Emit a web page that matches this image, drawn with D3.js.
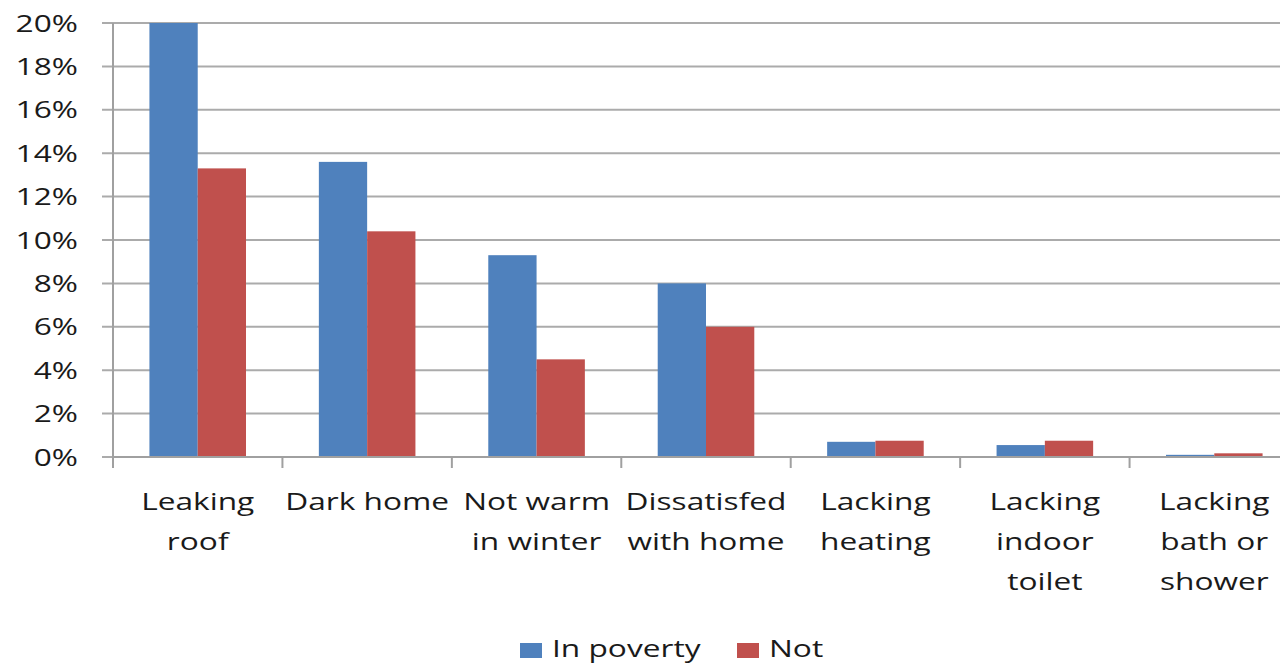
<!DOCTYPE html>
<html>
<head>
<meta charset="utf-8">
<script src="https://cdn.jsdelivr.net/npm/d3@7/dist/d3.min.js"></script>
<style>
  html, body { margin: 0; padding: 0; background: #fff; }
  svg { display: block; }
  text { font-family: "Open Sans", "Noto Sans", sans-serif; fill: #1a1a1a; }
</style>
</head>
<body>
<svg id="chart" width="1280" height="666"></svg>
<script>
// Housing problems by poverty status (percent of households)
const categories = [
  "Leaking\nroof",
  "Dark home",
  "Not warm\nin winter",
  "Dissatisfed\nwith home",
  "Lacking\nheating",
  "Lacking\nindoor\ntoilet",
  "Lacking\nbath or\nshower"
];
const seriesNames = ["In poverty", "Not"];
const inPoverty = [20.0, 13.6, 9.3, 8.0, 0.7, 0.55, 0.1];
const notPoverty = [13.3, 10.4, 4.5, 6.0, 0.75, 0.75, 0.17];
const yTicks = [0, 2, 4, 6, 8, 10, 12, 14, 16, 18, 20];
const colors = ["#4F81BD", "#C0504D"];

const rows = categories.map((c, i) => ({ cat: c, values: [inPoverty[i], notPoverty[i]] }));

const svg = d3.select("#chart");
const plotLeft = 113, plotRight = 1299, plotTop = 23, plotBottom = 457;
const textScale = 1.32;   // wide lettering
const fontSize = 24;

const y = d3.scaleLinear().domain([0, 20]).range([plotBottom, plotTop]);
const x0 = d3.scaleBand().domain(categories).range([plotLeft, plotRight])
  .paddingInner(0.43).paddingOuter(0.215);
const x1 = d3.scaleBand().domain(seriesNames).range([0, x0.bandwidth()]);

// Horizontal gridlines (with left tick stubs)
svg.append("g").selectAll("line").data(yTicks).join("line")
  .attr("x1", plotLeft - 11).attr("x2", 1280)
  .attr("y1", d => y(d)).attr("y2", d => y(d))
  .attr("stroke", "#ababab").attr("stroke-width", 2);

// Y tick labels
svg.append("g").selectAll("text").data(yTicks).join("text")
  .attr("transform", d => `translate(78,${y(d)}) scale(${textScale},1)`)
  .attr("text-anchor", "end").attr("dy", "0.36em")
  .style("font-size", fontSize + "px")
  .text(d => d + "%");

// Bars
const groups = svg.append("g").selectAll("g").data(rows).join("g")
  .attr("transform", d => `translate(${x0(d.cat)},0)`);
groups.selectAll("rect").data(d => d.values.map((v, k) => ({ k, v }))).join("rect")
  .attr("x", d => x1(seriesNames[d.k]))
  .attr("width", x1.bandwidth())
  .attr("y", d => y(d.v))
  .attr("height", d => y(0) - y(d.v))
  .attr("fill", d => colors[d.k]);

// Axis lines
svg.append("line").attr("x1", plotLeft).attr("x2", plotLeft).attr("y1", plotTop).attr("y2", plotBottom + 11)
  .attr("stroke", "#a0a0a0").attr("stroke-width", 2);
svg.append("line").attr("x1", plotLeft).attr("x2", 1280).attr("y1", plotBottom).attr("y2", plotBottom)
  .attr("stroke", "#a0a0a0").attr("stroke-width", 2);

// Category boundary ticks
const step = x0.step();
svg.append("g").selectAll("line").data(categories).join("line")
  .attr("x1", c => x0(c) + x0.bandwidth() / 2 - step / 2)
  .attr("x2", c => x0(c) + x0.bandwidth() / 2 - step / 2)
  .attr("y1", plotBottom).attr("y2", plotBottom + 11)
  .attr("stroke", "#a0a0a0").attr("stroke-width", 2);

// Category labels
const labels = svg.append("g").selectAll("g").data(categories).join("g")
  .attr("transform", c => `translate(${x0(c) + x0.bandwidth() / 2},510) scale(${textScale},1)`);
labels.selectAll("text").data(c => c.split("\n")).join("text")
  .attr("y", (d, i) => i * 40)
  .attr("text-anchor", "middle")
  .style("font-size", fontSize + "px")
  .text(d => d);

// Legend
const legendX = [520, 737];
const legend = svg.append("g").selectAll("g").data(seriesNames).join("g")
  .attr("transform", (d, i) => `translate(${legendX[i]},0)`);
legend.append("rect").attr("x", 0).attr("y", 643).attr("width", 22).attr("height", 15)
  .attr("fill", (d, i) => colors[i]);
legend.append("text")
  .attr("transform", `translate(32,657) scale(${textScale},1)`)
  .style("font-size", fontSize + "px")
  .text(d => d);
</script>
</body>
</html>
